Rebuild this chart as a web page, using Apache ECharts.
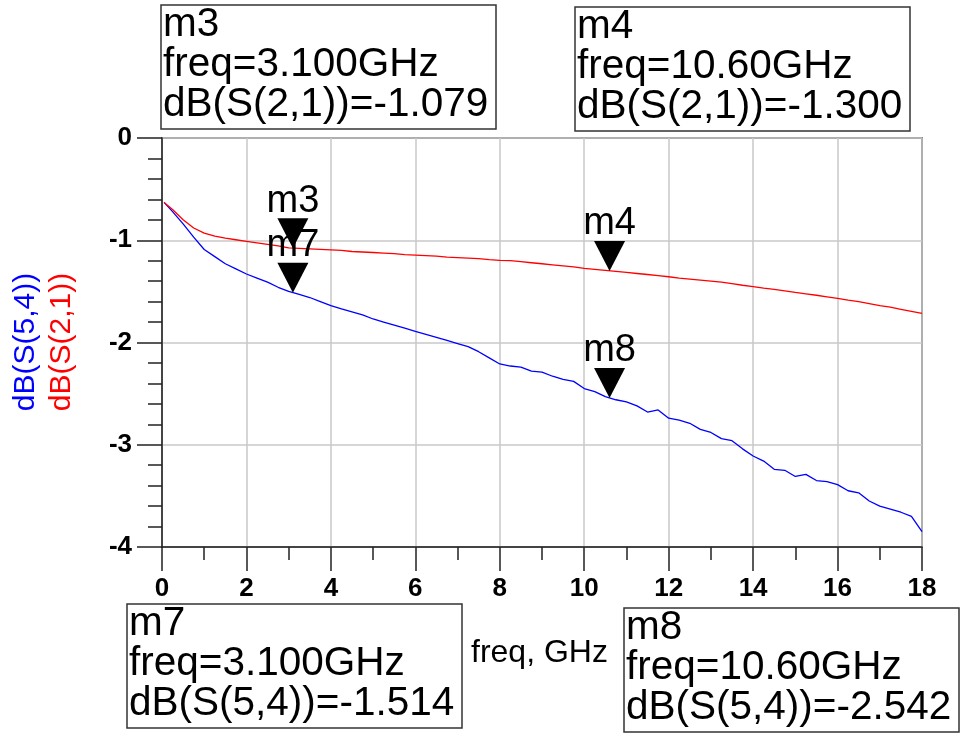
<!DOCTYPE html>
<html>
<head>
<meta charset="utf-8">
<script src="https://cdn.jsdelivr.net/npm/echarts@6/dist/echarts.min.js"></script>
<style>
html,body{margin:0;padding:0;background:#fff;}
#main{width:960px;height:733px;}
</style>
</head>
<body>
<div id="main"></div>
<script>
// freq, GHz
var freq = [0.05, 0.25, 0.5, 0.75, 1, 1.25, 1.5, 1.75, 2, 2.25, 2.5, 2.75, 3, 3.25, 3.5, 3.75,
    4, 4.25, 4.5, 4.75, 5, 5.25, 5.5, 5.75, 6, 6.25, 6.5, 6.75, 7, 7.25, 7.5, 7.75,
    8, 8.25, 8.5, 8.75, 9, 9.25, 9.5, 9.75, 10, 10.25, 10.5, 10.75, 11, 11.25, 11.5, 11.75,
    12, 12.25, 12.5, 12.75, 13, 13.25, 13.5, 13.75, 14, 14.25, 14.5, 14.75, 15, 15.25, 15.5, 15.75,
    16, 16.25, 16.5, 16.75, 17, 17.25, 17.5, 17.75, 18];
// dB(S(2,1))
var s21 = [-0.63, -0.70, -0.80, -0.88, -0.93, -0.96, -0.98, -0.995, -1.01, -1.025, -1.04, -1.055, -1.075, -1.08, -1.085, -1.09,
    -1.095, -1.10, -1.11, -1.115, -1.12, -1.125, -1.13, -1.14, -1.145, -1.15, -1.155, -1.165, -1.17, -1.175, -1.18, -1.19,
    -1.196, -1.20, -1.21, -1.22, -1.23, -1.24, -1.25, -1.26, -1.275, -1.285, -1.295, -1.305, -1.315, -1.325, -1.335, -1.345,
    -1.357, -1.37, -1.38, -1.39, -1.40, -1.41, -1.425, -1.44, -1.454, -1.468, -1.48, -1.495, -1.51, -1.524, -1.538, -1.553,
    -1.568, -1.585, -1.60, -1.62, -1.64, -1.655, -1.675, -1.695, -1.715];
// dB(S(5,4))
var s54 = [-0.63, -0.72, -0.84, -0.97, -1.09, -1.16, -1.23, -1.28, -1.33, -1.37, -1.41, -1.46, -1.50, -1.53, -1.56, -1.60,
    -1.64, -1.67, -1.70, -1.73, -1.77, -1.80, -1.83, -1.86, -1.89, -1.92, -1.95, -1.98, -2.01, -2.04, -2.09, -2.15,
    -2.21, -2.23, -2.24, -2.28, -2.29, -2.33, -2.36, -2.38, -2.45, -2.48, -2.53, -2.56, -2.58, -2.62, -2.68, -2.66,
    -2.74, -2.76, -2.79, -2.85, -2.88, -2.94, -2.96, -3.04, -3.11, -3.16, -3.24, -3.25, -3.31, -3.29, -3.35, -3.36,
    -3.39, -3.45, -3.47, -3.55, -3.60, -3.63, -3.66, -3.70, -3.85];

// markers
var mkName = ['m3', 'm4', 'm7', 'm8'];
var mkFreq = [3.1, 10.6, 3.1, 10.6];
var mkVal = [-1.079, -1.300, -1.514, -2.542];
var mkTrace = ['dB(S(2,1))', 'dB(S(2,1))', 'dB(S(5,4))', 'dB(S(5,4))'];
var mkFreqText = ['3.100GHz', '10.60GHz', '3.100GHz', '10.60GHz'];
// box position of each marker readout [x, y]
var mkBox = [[161, 5], [575, 7], [127, 604], [624, 608]];

var FONT = '"Liberation Sans", Arial, sans-serif';

function pairs(xs, ys){
    var out = [];
    for (var i = 0; i < xs.length; i++) out.push([xs[i], ys[i]]);
    return out;
}

// readout box
function readout(i){
    var lines = [mkName[i], 'freq=' + mkFreqText[i], mkTrace[i] + '=' + mkVal[i].toFixed(3)];
    return {
        type: 'group',
        x: mkBox[i][0],
        y: mkBox[i][1],
        children: [
            {type: 'rect', shape: {x: 0, y: 0, width: 335, height: 124},
                style: {fill: '#fff', stroke: '#333', lineWidth: 1.5}},
            {type: 'text', x: 2, y: 0,
                style: {text: lines.join('\n'), font: '40.5px ' + FONT, lineHeight: 40, fill: '#000'}}
        ]
    };
}

function markerSeries(i){
    return {
        type: 'scatter',
        z: 5,
        data: [[mkFreq[i], mkVal[i]]],
        symbol: 'path://M0,0L10,0L5,10Z',
        symbolSize: [31, 30],
        symbolOffset: [0, -15],
        itemStyle: {color: '#000', opacity: 1},
        label: {show: true, position: 'top', distance: -2, formatter: mkName[i],
            fontSize: 38, fontFamily: FONT, color: '#000', opacity: 1},
        emphasis: {disabled: true},
        silent: true
    };
}

var myChart = echarts.init(document.getElementById('main'));
var gridLine = {lineStyle: {color: '#c8c8c8', width: 1.5}};
var option = {
    animation: false,
    backgroundColor: '#fff',
    grid: {left: 162, right: 38, top: 138, bottom: 186, show: true, borderColor: '#333', borderWidth: 1.5},
    xAxis: {
        type: 'value', min: 0, max: 18, interval: 2,
        axisLine: {onZero: false, lineStyle: {color: '#222', width: 1.5}},
        axisTick: {length: 24, lineStyle: {color: '#222', width: 1.5}},
        minorTick: {show: true, splitNumber: 2, length: 13, lineStyle: {color: '#222', width: 1.5}},
        splitLine: gridLine,
        axisLabel: {fontSize: 26, fontWeight: 'bold', color: '#000', margin: 29, fontFamily: FONT,
            showMinLabel: true, showMaxLabel: true}
    },
    yAxis: {
        type: 'value', min: -4, max: 0, interval: 1,
        axisLine: {onZero: false, lineStyle: {color: '#222', width: 1.5}},
        axisTick: {length: 25, lineStyle: {color: '#222', width: 1.5}},
        minorTick: {show: true, splitNumber: 5, length: 14, lineStyle: {color: '#222', width: 1.5}},
        splitLine: gridLine,
        axisLabel: {fontSize: 26, fontWeight: 'bold', color: '#000', margin: 30, fontFamily: FONT}
    },
    series: [
        {type: 'line', name: 'dB(S(5,4))', data: pairs(freq, s54), showSymbol: false,
            lineStyle: {color: '#0000ff', width: 1.3}, z: 2},
        {type: 'line', name: 'dB(S(2,1))', data: pairs(freq, s21), showSymbol: false,
            lineStyle: {color: '#ff0000', width: 1.3}, z: 3},
        markerSeries(0), markerSeries(1), markerSeries(2), markerSeries(3)
    ],
    graphic: [
        readout(0), readout(1), readout(2), readout(3),
        {type: 'text', x: 26, y: 342, rotation: Math.PI / 2,
            style: {text: 'dB(S(5,4))', font: '30px ' + FONT, fill: '#0000ff', textAlign: 'center', textVerticalAlign: 'middle'}},
        {type: 'text', x: 62, y: 342, rotation: Math.PI / 2,
            style: {text: 'dB(S(2,1))', font: '30px ' + FONT, fill: '#ff0000', textAlign: 'center', textVerticalAlign: 'middle'}},
        {type: 'text', x: 471, y: 653,
            style: {text: 'freq, GHz', font: '32px ' + FONT, fill: '#000', textVerticalAlign: 'middle'}}
    ]
};
myChart.setOption(option);
</script>
</body>
</html>
